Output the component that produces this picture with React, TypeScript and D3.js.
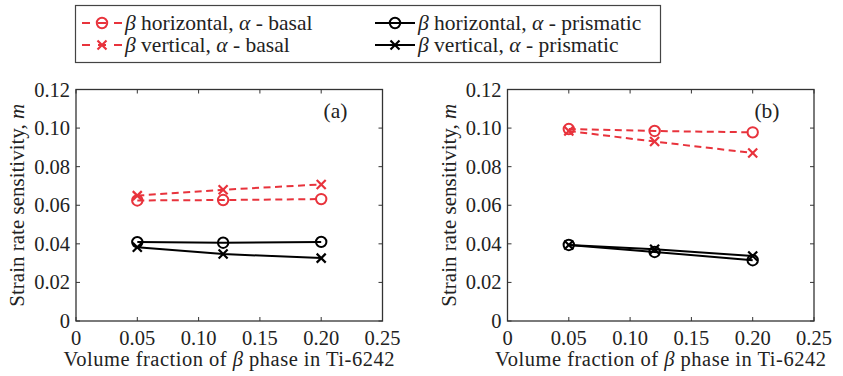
import React from "react";
import * as d3 from "d3";

const xValues = [0.05, 0.12, 0.2];
const panelLabels = ["(a)", "(b)"];
const xTicks = [0, 0.05, 0.1, 0.15, 0.2, 0.25];
const yTicks = [0, 0.02, 0.04, 0.06, 0.08, 0.1, 0.12];

// Panel (a)
const aHorizBasal = [0.0625, 0.0627, 0.0632];
const aVertBasal = [0.065, 0.068, 0.0708];
const aHorizPrism = [0.0409, 0.0406, 0.041];
const aVertPrism = [0.0382, 0.0347, 0.0326];
// Panel (b)
const bHorizBasal = [0.0995, 0.0985, 0.0978];
const bVertBasal = [0.0985, 0.093, 0.0871];
const bHorizPrism = [0.0394, 0.0358, 0.0315];
const bVertPrism = [0.0394, 0.0372, 0.0337];

const RED = "#e8333c";
const BLACK = "#000";

type Series = { values: number[]; color: string; dashed: boolean; marker: "o" | "x" };

const panels: Series[][] = [
  [
    { values: aHorizBasal, color: RED, dashed: true, marker: "o" },
    { values: aVertBasal, color: RED, dashed: true, marker: "x" },
    { values: aHorizPrism, color: BLACK, dashed: false, marker: "o" },
    { values: aVertPrism, color: BLACK, dashed: false, marker: "x" },
  ],
  [
    { values: bHorizBasal, color: RED, dashed: true, marker: "o" },
    { values: bVertBasal, color: RED, dashed: true, marker: "x" },
    { values: bHorizPrism, color: BLACK, dashed: false, marker: "o" },
    { values: bVertPrism, color: BLACK, dashed: false, marker: "x" },
  ],
];

const FONT = "'Liberation Serif', 'Times New Roman', 'DejaVu Serif', serif";
const TXT = "#222";

function Marker({ x, y, type, color }: { x: number; y: number; type: "o" | "x"; color: string }) {
  if (type === "o") return <circle cx={x} cy={y} r={5.2} fill="none" stroke={color} strokeWidth={2} />;
  const s = 4.5;
  return (
    <g stroke={color} strokeWidth={2.2}>
      <line x1={x - s} y1={y - s} x2={x + s} y2={y + s} />
      <line x1={x - s} y1={y + s} x2={x + s} y2={y - s} />
    </g>
  );
}

function Panel({ left, series, label }: { left: number; series: Series[]; label: string }) {
  const top = 89.5;
  const bottom = 321;
  const width = 306.5;
  const x = d3.scaleLinear().domain([0, 0.25]).range([left, left + width]);
  const y = d3.scaleLinear().domain([0, 0.12]).range([bottom, top]);
  const line = d3
    .line<number>()
    .x((_, i) => x(xValues[i]))
    .y((d) => y(d));
  const tl = 4;
  const axisColor = "#333";
  return (
    <g>
      {series.map((s, si) => (
        <g key={si}>
          <path
            d={line(s.values) || ""}
            fill="none"
            stroke={s.color}
            strokeWidth={2}
            strokeDasharray={s.dashed ? "7,4.5" : undefined}
          />
          {s.values.map((v, i) => (
            <Marker key={i} x={x(xValues[i])} y={y(v)} type={s.marker} color={s.color} />
          ))}
        </g>
      ))}
      <rect x={left} y={top} width={width} height={bottom - top} fill="none" stroke={axisColor} strokeWidth={1.3} />
      {xTicks.map((t, i) => (
        <g key={"x" + i}>
          <line x1={x(t)} x2={x(t)} y1={bottom} y2={bottom - tl} stroke={axisColor} strokeWidth={1} />
          <line x1={x(t)} x2={x(t)} y1={top} y2={top + tl} stroke={axisColor} strokeWidth={1} />
          <text x={x(t)} y={bottom + 23.5} textAnchor="middle" fontSize={20.5} style={{ fontFamily: FONT }} fill={TXT}>
            {t === 0 ? "0" : d3.format(".2f")(t)}
          </text>
        </g>
      ))}
      {yTicks.map((t, i) => (
        <g key={"y" + i}>
          <line x1={left} x2={left + tl} y1={y(t)} y2={y(t)} stroke={axisColor} strokeWidth={1} />
          <line x1={left + width} x2={left + width - tl} y1={y(t)} y2={y(t)} stroke={axisColor} strokeWidth={1} />
          <text x={left - 6} y={y(t) + 7} textAnchor="end" fontSize={20.5} style={{ fontFamily: FONT }} fill={TXT}>
            {t === 0 ? "0" : d3.format(".2f")(t)}
          </text>
        </g>
      ))}
      <text
        x={left + width / 2}
        y={bottom + 45}
        textAnchor="middle"
        fontSize={20.5}
        letterSpacing={0.5}
        style={{ fontFamily: FONT }}
        fill={TXT}
      >
        Volume fraction of <tspan fontStyle="italic">β</tspan> phase in Ti-6242
      </text>
      <text
        transform={`translate(${left - 52},${(top + bottom) / 2}) rotate(-90)`}
        textAnchor="middle"
        fontSize={21}
        style={{ fontFamily: FONT }}
        fill={TXT}
      >
        Strain rate sensitivity, <tspan fontStyle="italic">m</tspan>
      </text>
      <text x={left + width - 47} y={top + 28} textAnchor="middle" fontSize={21.5} style={{ fontFamily: FONT }} fill={TXT}>
        {label}
      </text>
    </g>
  );
}

const legendItems = [
  { color: RED, dashed: true, marker: "o" as const, rest: " horizontal, ", slip: "basal" },
  { color: RED, dashed: true, marker: "x" as const, rest: " vertical, ", slip: "basal" },
  { color: BLACK, dashed: false, marker: "o" as const, rest: " horizontal, ", slip: "prismatic" },
  { color: BLACK, dashed: false, marker: "x" as const, rest: " vertical, ", slip: "prismatic" },
];

function Legend() {
  const colX = [82, 375];
  const rowY = [23, 45];
  return (
    <g>
      <rect x={75.5} y={5.5} width={585} height={57} fill="#fff" stroke="#444" strokeWidth={1.2} />
      {legendItems.map((it, i) => {
        const cx = colX[Math.floor(i / 2)];
        const cy = rowY[i % 2];
        return (
          <g key={i}>
            <line
              x1={cx}
              x2={cx + 40}
              y1={cy}
              y2={cy}
              stroke={it.color}
              strokeWidth={2.2}
              strokeDasharray={it.dashed ? "8,8" : undefined}
            />
            <Marker x={cx + 20} y={cy} type={it.marker} color={it.color} />
            <text x={cx + 43} y={cy + 7} fontSize={21.5} style={{ fontFamily: FONT }} fill={TXT}>
              <tspan fontStyle="italic">β</tspan>
              {it.rest}
              <tspan fontStyle="italic">α</tspan>
              {" - " + it.slip}
            </text>
          </g>
        );
      })}
    </g>
  );
}

export default function App() {
  return (
    <svg width={843} height={376} style={{ position: "absolute", left: 0, top: 0, background: "#fff" }}>
      <Panel left={76} series={panels[0]} label={panelLabels[0]} />
      <Panel left={507.5} series={panels[1]} label={panelLabels[1]} />
      <Legend />
    </svg>
  );
}
